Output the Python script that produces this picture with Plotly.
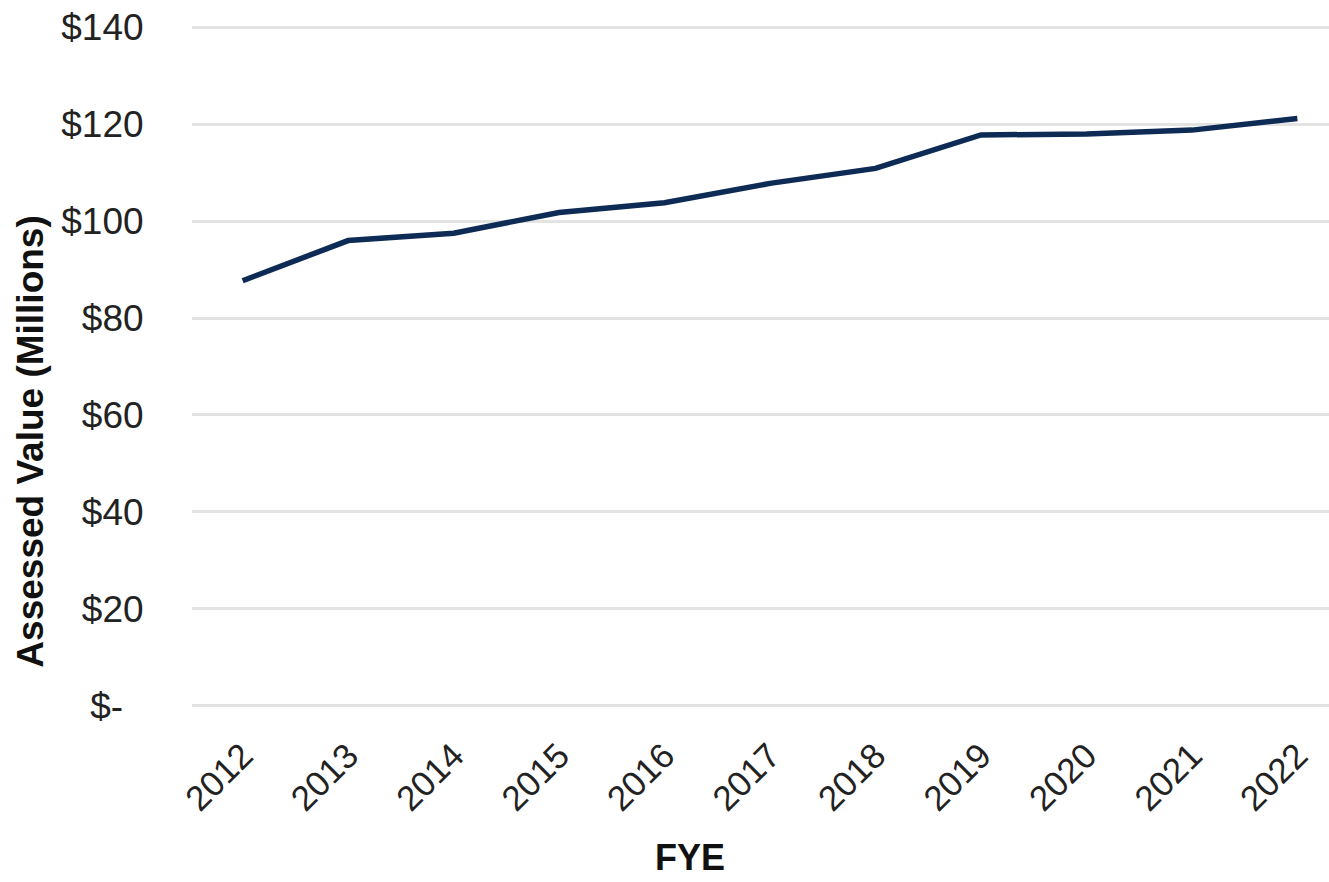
import plotly.graph_objects as go

years = ["2012", "2013", "2014", "2015", "2016", "2017", "2018", "2019", "2020", "2021", "2022"]
values = [87.7, 96.0, 97.5, 101.8, 103.8, 107.8, 110.9, 117.8, 118.0, 118.8, 121.2]
y_ticks = [0, 20, 40, 60, 80, 100, 120, 140]
y_labels = ["$-\u00a0\u00a0", "$20", "$40", "$60", "$80", "$100", "$120", "$140"]

FONT = "Liberation Sans, Arial, sans-serif"

fig = go.Figure()
fig.add_trace(go.Scatter(
    x=years, y=values, mode="lines",
    line=dict(color="#0d2b55", width=5.5),
    showlegend=False, hoverinfo="skip",
))

fig.update_layout(
    width=1329, height=882,
    margin=dict(l=192, r=0, t=25, b=174),
    paper_bgcolor="white", plot_bgcolor="white",
    font=dict(family=FONT, size=36, color="#222222"),
    xaxis=dict(
        type="category", range=[-0.48, 10.3],
        tickangle=-45, showgrid=False, zeroline=False, showline=False,
        ticks="outside", ticklen=12, tickcolor="rgba(0,0,0,0)",
        tickfont=dict(family=FONT, size=35, color="#222222"),
    ),
    yaxis=dict(
        range=[-0.5, 140.5], tickvals=y_ticks, ticktext=y_labels,
        showgrid=True, gridcolor="#e3e3e3", gridwidth=2.5,
        zeroline=False, showline=False,
        ticks="outside", ticklen=40, tickcolor="rgba(0,0,0,0)",
        tickfont=dict(family=FONT, size=37, color="#222222"),
    ),
    annotations=[
        dict(text="<b>Assessed Value (Millions)</b>", textangle=-90,
             xref="paper", yref="paper", x=-0.1416, y=0.390,
             xanchor="center", yanchor="middle", showarrow=False,
             font=dict(family=FONT, size=37, color="#111111")),
        dict(text="<b>FYE</b>",
             xref="paper", yref="paper", x=0.438, y=-0.2196,
             xanchor="center", yanchor="middle", showarrow=False,
             font=dict(family=FONT, size=36, color="#111111")),
    ],
)

fig.write_html("out.html")
